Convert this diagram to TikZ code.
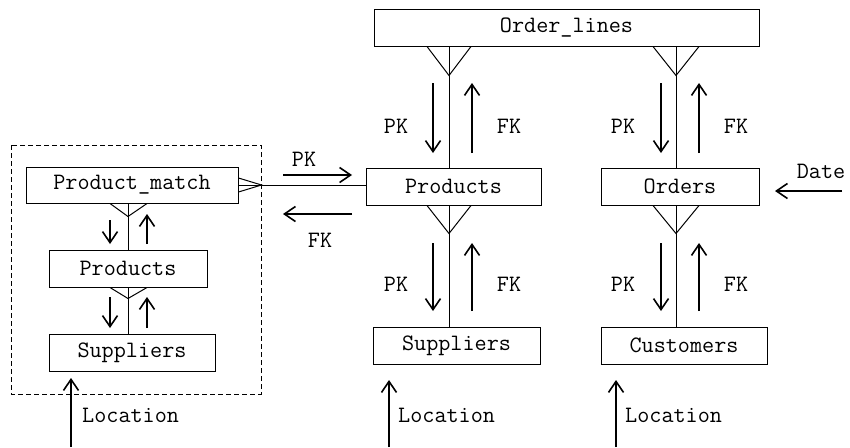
\documentclass[tikz,border=0pt]{standalone}
\usetikzlibrary{arrows.meta,calc}
\begin{document}
\begin{tikzpicture}[x=1pt,y=-1pt,
  every node/.style={font=\ttfamily\fontsize{23.5}{28}\selectfont},
  entity/.style={draw,line width=1pt,minimum height=37pt,inner sep=0pt,anchor=center},
  rel/.style={line width=1pt},
  flow/.style={line width=1.6pt,-{Straight Barb[length=11pt,width=15pt,line width=1.6pt]}},
  lbl/.style={inner sep=0pt,anchor=center}]
\useasboundingbox (0,0) rectangle (850,447);

% dashed grouping box
\draw[line width=1pt,dash pattern=on 5pt off 3pt] (11,145) rectangle (261,394);

% entities
\node[entity,minimum width=385pt] (ol) at (566.5,27.5) {Order\_lines};
\node[entity,minimum width=175pt] (pr) at (453.5,186.5) {Products};
\node[entity,minimum width=158pt] (or) at (680,186.5) {Orders};
\node[entity,minimum width=167pt] (su) at (456.5,345.5) {Suppliers};
\node[entity,minimum width=166pt] (cu) at (684,345.5) {Customers};
\node[entity,minimum width=212pt,minimum height=36pt] (pm) at (132,185) {Product\_match};
\node[entity,minimum width=158pt] (ip) at (128,268.5) {Products};
\node[entity,minimum width=166pt] (is) at (132,352.5) {Suppliers};

% column positions of the relationship lines
\coordinate (c1) at (449,0);
\coordinate (c2) at (676,0);
\coordinate (c3) at (128,0);

% relationship lines with crow's feet
\draw[rel] (ol.south -| c1) -- (pr.north -| c1);
\draw[rel] ([xshift=-22pt]ol.south -| c1) -- ++(22,29) -- ++(22,-29);
\draw[rel] (ol.south -| c2) -- (or.north -| c2);
\draw[rel] ([xshift=-23pt]ol.south -| c2) -- ++(23,29) -- ++(23,-29);
\draw[rel] (pr.south -| c1) -- (su.north -| c1);
\draw[rel] ([xshift=-22pt]pr.south -| c1) -- ++(22,28) -- ++(22,-28);
\draw[rel] (or.south -| c2) -- (cu.north -| c2);
\draw[rel] ([xshift=-23pt]or.south -| c2) -- ++(23,28) -- ++(23,-28);
\draw[rel] (pm.south -| c3) -- (ip.north -| c3);
\draw[rel] ([xshift=-18pt]pm.south -| c3) -- ++(18,13) -- ++(19,-13);
\draw[rel] (ip.south -| c3) -- (is.north -| c3);
\draw[rel] ([xshift=-18pt]ip.south -| c3) -- ++(18,11) -- ++(19,-11);
\coordinate (pmr) at (pm.east);
\draw[rel] (pm.east) -- (pr.west |- pmr);
\draw[rel] ([yshift=7pt]pm.east) -- ++(23,7) -- ++(-23,7);

% key flows
\draw[flow] (433,83) -- (433,153);
\draw[flow] (472,153) -- (472,83);
\draw[flow] (661,83) -- (661,153);
\draw[flow] (699,153) -- (699,83);
\draw[flow] (433,243) -- (433,311);
\draw[flow] (472,311) -- (472,243);
\draw[flow] (661,243) -- (661,311);
\draw[flow] (699,311) -- (699,243);
\draw[flow] (110,220) -- (110,244);
\draw[flow] (147,244) -- (147,214);
\draw[flow] (110,297) -- (110,328);
\draw[flow] (147,328) -- (147,297);
\draw[flow] (283,175) -- (352,175);
\draw[flow] (352,214) -- (283,214);
\draw[flow] (842,191) -- (775,191);
\draw[flow] (71,447) -- (71,378);
\draw[flow] (389,447) -- (389,380);
\draw[flow] (616,447) -- (616,380);

% labels
\node[lbl] (k1) at (396,126) {PK};
\node[lbl] (k2) at (509,126) {FK};
\node[lbl] (k3) at (623,126) {PK};
\node[lbl] (k4) at (736,126) {FK};
\node[lbl] (k5) at (396,284) {PK};
\node[lbl] (k6) at (509,284) {FK};
\node[lbl] (k7) at (623,284) {PK};
\node[lbl] (k8) at (736,284) {FK};
\node[lbl] (k9) at (304,159) {PK};
\node[lbl] (k10) at (320,240) {FK};
\node[lbl] (dt) at (821,171) {Date};
\node[lbl,anchor=west] (l1) at (82,415) {Location};
\node[lbl,anchor=west] (l2) at (398,415) {Location};
\node[lbl,anchor=west] (l3) at (625,415) {Location};
\end{tikzpicture}
\end{document}
